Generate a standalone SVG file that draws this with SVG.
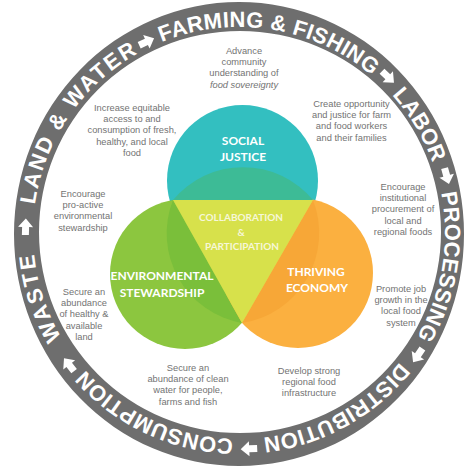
<svg xmlns="http://www.w3.org/2000/svg" xmlns:xlink="http://www.w3.org/1999/xlink" width="464" height="467" viewBox="0 0 464 467">
<style>
.ring{font-family:"Liberation Sans",Arial,sans-serif;font-weight:bold;font-size:22px;fill:#ffffff;letter-spacing:0.3px}
.arr{fill:#ffffff}
.lbl{font-family:Lato,"Open Sans",sans-serif;font-weight:bold;font-size:12px;fill:#ffffff;text-anchor:middle}
.clb{font-family:Lato,"Open Sans",sans-serif;font-weight:bold;font-size:10px;fill:#f6f7d8;text-anchor:middle}
.note{font-family:"Liberation Sans",Arial,sans-serif;font-size:9.3px;fill:#737373;text-anchor:middle}
</style>
<defs>
<path id="tp" d="M33,233 A206,206 0 0 1 445,233 A206,206 0 0 1 33,233"/>
<polygon id="ar" points="-8,-3.5 0,-3.5 0,-7.5 8.5,0 0,7.5 0,3.5 -8,3.5"/>
</defs>
<rect width="464" height="467" fill="#ffffff"/>
<g id="ring">
<path fill="#6e6e6e" fill-rule="evenodd" d="M14,234 A225,232 0 1 1 464,234 A225,232 0 1 1 14,234 Z M39,232 A201,201 0 1 0 441,232 A201,201 0 1 0 39,232 Z"/>
<text class="ring" text-anchor="middle" style="letter-spacing:2px"><textPath xlink:href="#tp" href="#tp" startOffset="124">LAND &amp; WATER</textPath></text>
<text class="ring" text-anchor="middle"><textPath xlink:href="#tp" href="#tp" startOffset="356">FARMING &amp; FISHING</textPath></text>
<text class="ring" text-anchor="middle"><textPath xlink:href="#tp" href="#tp" startOffset="535.7">LABOR</textPath></text>
<text class="ring" text-anchor="middle"><textPath xlink:href="#tp" href="#tp" startOffset="681.3">PROCESSING</textPath></text>
<text class="ring" text-anchor="middle"><textPath xlink:href="#tp" href="#tp" startOffset="866.5">DISTRIBUTION</textPath></text>
<text class="ring" text-anchor="middle"><textPath xlink:href="#tp" href="#tp" startOffset="1060.3">CONSUMPTION</textPath></text>
<text class="ring" text-anchor="middle" style="letter-spacing:2.5px"><textPath xlink:href="#tp" href="#tp" startOffset="1229.6">WASTE</textPath></text>
</g>
<g id="connectors">
<use href="#ar" xlink:href="#ar" class="arr" transform="translate(25.6,227) rotate(271.6)"/>
<use href="#ar" xlink:href="#ar" class="arr" transform="translate(146.4,41.8) rotate(334.5)"/>
<use href="#ar" xlink:href="#ar" class="arr" transform="translate(387.8,76.8) rotate(43.5)"/>
<use href="#ar" xlink:href="#ar" class="arr" transform="translate(446.7,175.8) rotate(74.5)"/>
<use href="#ar" xlink:href="#ar" class="arr" transform="translate(417.9,355.2) rotate(124.5)"/>
<use href="#ar" xlink:href="#ar" class="arr" transform="translate(249.2,448.8) rotate(177.4)"/>
<use href="#ar" xlink:href="#ar" class="arr" transform="translate(69.2,364.9) rotate(232.3)"/>
</g>
<g id="social-justice">
<circle cx="242.5" cy="180.5" r="75.5" fill="#33bfc0"/>
</g>
<g id="environmental-stewardship">
<circle cx="185" cy="274" r="75" fill="#8cc63f"/>
</g>
<g id="thriving-economy">
<circle cx="298" cy="273" r="75" fill="#fbb040"/>
</g>
<g id="overlaps">
<path d="M173,200 A91,91 0 0 1 313,200 Z" fill="#3dbb96"/>
<path d="M313,200 A91,91 0 0 1 242,323 Z" fill="#f7a737"/>
<path d="M242,323 A91,91 0 0 1 173,200 Z" fill="#7abf3a"/>
</g>
<g id="collaboration">
<polygon points="173,200 313,200 242,323" fill="#d7e14b"/>
<text class="clb" x="241" y="220.6">COLLABORATION</text>
<text class="clb" x="241" y="235.6">&amp;</text>
<text class="clb" x="242" y="249.6">PARTICIPATION</text>
</g>
<g id="labels">
<text class="lbl" x="243" y="144.5">SOCIAL</text>
<text class="lbl" x="243" y="160.5">JUSTICE</text>
<text class="lbl" x="162" y="279.5">ENVIRONMENTAL</text>
<text class="lbl" x="162" y="296.5">STEWARDSHIP</text>
<text class="lbl" x="316" y="275.5">THRIVING</text>
<text class="lbl" x="317" y="291.5">ECONOMY</text>
</g>
<g id="notes">
<text class="note" x="244" y="53.5"><tspan x="244">Advance</tspan><tspan x="244" dy="11.4">community</tspan><tspan x="244" dy="11.4">understanding of</tspan><tspan x="244" dy="11.4" font-style="italic">food sovereignty</tspan></text>
<text class="note" x="132" y="110.5"><tspan x="132">Increase equitable</tspan><tspan x="132" dy="11.4">access to and</tspan><tspan x="132" dy="11.4">consumption of fresh,</tspan><tspan x="132" dy="11.4">healthy, and local</tspan><tspan x="132" dy="11.4">food</tspan></text>
<text class="note" x="351.5" y="106.5"><tspan x="351.5">Create opportunity</tspan><tspan x="351.5" dy="11.4">and justice for farm</tspan><tspan x="351.5" dy="11.4">and food workers</tspan><tspan x="351.5" dy="11.4">and their families</tspan></text>
<text class="note" x="83" y="196.5"><tspan x="83">Encourage</tspan><tspan x="83" dy="11.4">pro-active</tspan><tspan x="83" dy="11.4">environmental</tspan><tspan x="83" dy="11.4">stewardship</tspan></text>
<text class="note" x="403" y="189.5"><tspan x="403">Encourage</tspan><tspan x="403" dy="11.4">institutional</tspan><tspan x="403" dy="11.4">procurement of</tspan><tspan x="403" dy="11.4">local and</tspan><tspan x="403" dy="11.4">regional foods</tspan></text>
<text class="note" x="84" y="294.5"><tspan x="84">Secure an</tspan><tspan x="84" dy="11.4">abundance</tspan><tspan x="84" dy="11.4">of healthy &amp;</tspan><tspan x="84" dy="11.4">available</tspan><tspan x="84" dy="11.4">land</tspan></text>
<text class="note" x="401" y="291.5"><tspan x="401">Promote job</tspan><tspan x="401" dy="11.4">growth in the</tspan><tspan x="401" dy="11.4">local food</tspan><tspan x="401" dy="11.4">system</tspan></text>
<text class="note" x="188" y="370.5"><tspan x="188">Secure an</tspan><tspan x="188" dy="11.4">abundance of clean</tspan><tspan x="188" dy="11.4">water for people,</tspan><tspan x="188" dy="11.4">farms and fish</tspan></text>
<text class="note" x="309" y="373.5"><tspan x="309">Develop strong</tspan><tspan x="309" dy="11.4">regional food</tspan><tspan x="309" dy="11.4">infrastructure</tspan></text>
</g>
</svg>
